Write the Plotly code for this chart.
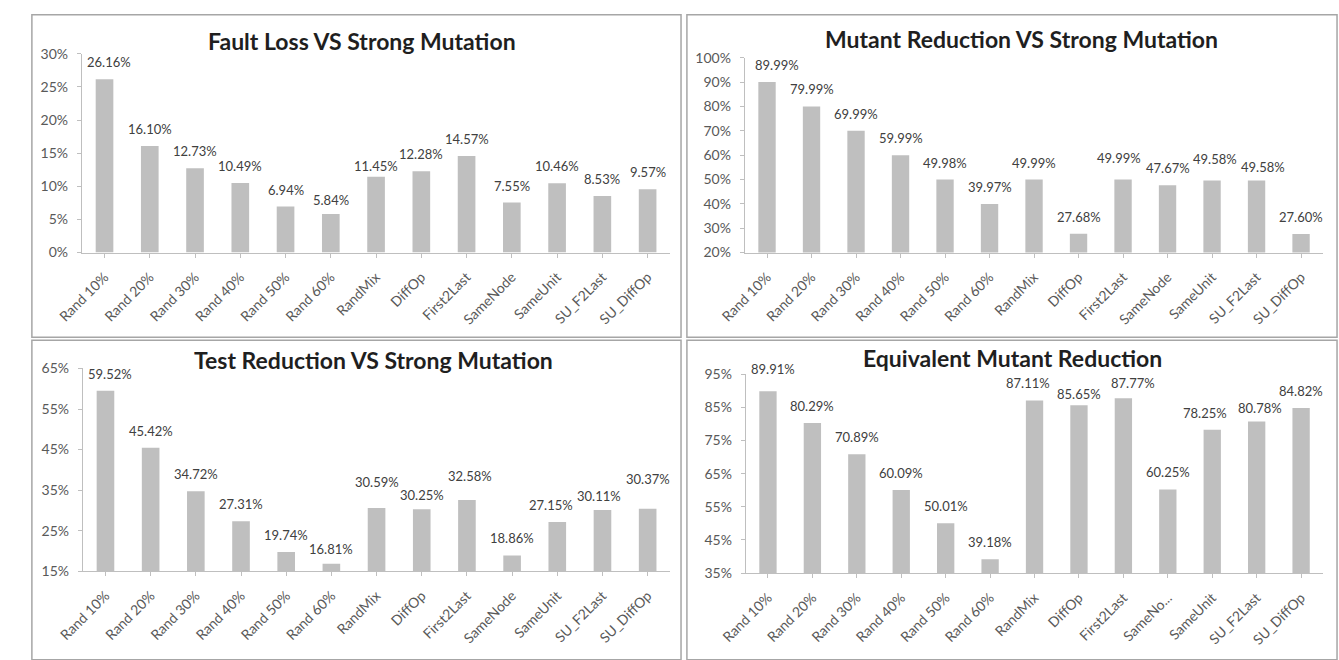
import plotly.graph_objects as go

# Categories shared by all four panels
categories = ["Rand 10%", "Rand 20%", "Rand 30%", "Rand 40%", "Rand 50%", "Rand 60%",
              "RandMix", "DiffOp", "First2Last", "SameNode", "SameUnit", "SU_F2Last", "SU_DiffOp"]
# The last panel shows a truncated label for SameNode
categories_short = ["Rand 10%", "Rand 20%", "Rand 30%", "Rand 40%", "Rand 50%", "Rand 60%",
                    "RandMix", "DiffOp", "First2Last", "SameNo...", "SameUnit", "SU_F2Last", "SU_DiffOp"]

# Values in percent
fault_loss = [26.16, 16.10, 12.73, 10.49, 6.94, 5.84, 11.45, 12.28, 14.57, 7.55, 10.46, 8.53, 9.57]
mutant_reduction = [89.99, 79.99, 69.99, 59.99, 49.98, 39.97, 49.99, 27.68, 49.99, 47.67, 49.58, 49.58, 27.60]
test_reduction = [59.52, 45.42, 34.72, 27.31, 19.74, 16.81, 30.59, 30.25, 32.58, 18.86, 27.15, 30.11, 30.37]
equivalent_reduction = [89.91, 80.29, 70.89, 60.09, 50.01, 39.18, 87.11, 85.65, 87.77, 60.25, 78.25, 80.78, 84.82]

titles = ["Fault Loss VS Strong Mutation", "Mutant Reduction VS Strong Mutation",
          "Test Reduction VS Strong Mutation", "Equivalent Mutant Reduction"]

W, H = 1339, 660
FONT = "Lato"
BAR = "#BFBFBF"
AXIS = "#BFBFBF"
TXT = "#595959"


def px_x(x):
    return x / W


def px_y(y):
    return 1 - y / H


# Pixel nudges (dx, dy up) for value labels that are staggered to stay readable
label_nudges = [
    {0: (4, 0), 5: (0, -3), 6: (0, -6)},
    {0: (10, 0), 8: (-4, 5), 10: (3, 5), 11: (6, -3)},
    {0: (5, 0), 5: (0, -2), 6: (0, 9), 7: (0, -3), 8: (3, 7), 10: (-6, 0), 11: (-3, -3), 12: (0, 13)},
    {0: (5, 5), 6: (-7, 0), 7: (0, -6), 8: (10, -2), 10: (-7, 0), 11: (3, -4)},
]

# (series, tick labels, y range, y step, plot box in px: left, right, top, bottom, title centre)
panels = [
    (fault_loss, categories, (0, 30), 5, (57, 657, 46, 250), (343, 33)),
    (mutant_reduction, categories, (20, 100), 10, (733, 1323, 50, 250), (1015, 31)),
    (test_reduction, categories, (15, 65), 10, (58, 657, 369, 577), (354, 360)),
    (equivalent_reduction, categories_short, (35, 95), 10, (734, 1323, 375, 579), (1006, 358)),
]

fig = go.Figure()
annotations = []
layout = {}

for i, (vals, ticks, yr, step, box, tpos) in enumerate(panels, start=1):
    xa = "x" if i == 1 else f"x{i}"
    ya = "y" if i == 1 else f"y{i}"
    fig.add_trace(go.Bar(x=list(range(len(vals))), y=vals, xaxis=xa, yaxis=ya,
                         marker=dict(color=BAR, line=dict(width=0)),
                         hoverinfo="skip", showlegend=False))
    left, right, top, bottom = box
    layout[f"xaxis{'' if i == 1 else i}"] = dict(
        domain=[px_x(left), px_x(right)], anchor=ya,
        range=[-0.5, len(vals) - 0.5],
        tickmode="array", tickvals=list(range(len(vals))), ticktext=ticks,
        tickangle=-45, showline=True, linecolor=AXIS, linewidth=1,
        ticks="outside", ticklen=4, tickcolor=AXIS, showgrid=False, zeroline=False,
        tickson="boundaries", ticklabelstandoff=6,
        tickfont=dict(family=FONT, size=14, color=TXT),
    )
    layout[f"yaxis{'' if i == 1 else i}"] = dict(
        domain=[px_y(bottom), px_y(top)], anchor=xa,
        range=list(yr), dtick=step, tick0=yr[0], ticksuffix="%",
        showline=True, linecolor=AXIS, linewidth=1,
        ticks="outside", ticklen=4, tickcolor=AXIS, showgrid=False, zeroline=False,
        tickfont=dict(family=FONT, size=14, color=TXT), ticklabelstandoff=6,
    )
    # value labels above each bar
    nudges = label_nudges[i - 1]
    for k, v in enumerate(vals):
        dx, dy = nudges.get(k, (0, 0))
        annotations.append(dict(x=k, y=v, xref=xa, yref=ya, text=f"{v:.2f}%",
                                showarrow=False, yanchor="bottom",
                                xshift=dx, yshift=7 + dy,
                                font=dict(family=FONT, size=13, color="#404040")))
    annotations.append(dict(x=px_x(tpos[0]), y=px_y(tpos[1]), xref="paper", yref="paper",
                            text=f"<b>{titles[i - 1]}</b>", showarrow=False,
                            xanchor="center", yanchor="middle",
                            font=dict(family=FONT, size=23, color="#1f1f1f")))

# Panel frames
frames = [(6, 668, 6, 337), (674, 1337, 6, 337), (6, 668, 340, 668), (674, 1337, 340, 668)]
shapes = [dict(type="rect", xref="paper", yref="paper",
               x0=px_x(a), x1=px_x(b), y0=px_y(d), y1=px_y(c),
               line=dict(color="#A6A6A6", width=1.5), fillcolor="rgba(0,0,0,0)")
          for a, b, c, d in frames]

fig.update_layout(
    width=W, height=H, margin=dict(l=0, r=0, t=0, b=0),
    paper_bgcolor="white", plot_bgcolor="white",
    bargap=0.61, annotations=annotations, shapes=shapes,
    font=dict(family=FONT), **layout,
)

fig.write_html("out.html")
